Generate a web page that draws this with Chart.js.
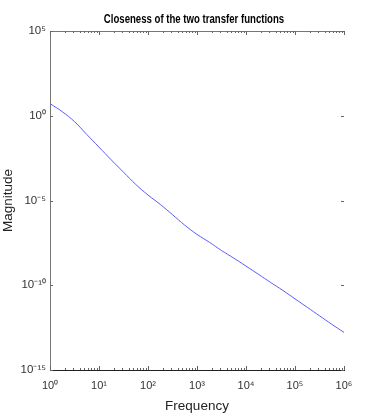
<!DOCTYPE html>
<html>
<head>
<meta charset="utf-8">
<script src="https://cdn.jsdelivr.net/npm/chart.js@4.4.0/dist/chart.umd.min.js"></script>
<style>
  html, body { margin: 0; padding: 0; background: #fff; }
  #wrap { width: 381px; height: 416px; }
</style>
</head>
<body>
<div id="wrap"><canvas id="grafico" width="381" height="416"></canvas></div>
<script>
// datos
const frecuencias = [1, 1.778, 3.162, 5.623, 10, 17.78, 31.62, 56.23, 100, 177.8, 316.2, 562.3,
  1e3, 1.778e3, 3.162e3, 5.623e3, 1e4, 1.778e4, 3.162e4, 5.623e4, 1e5, 1.778e5, 3.162e5, 5.623e5, 1e6];
const magnitudes = [5.2, 1.74, 0.45, 0.079, 0.0141, 2.5e-3, 4.7e-4, 8.9e-5, 2.1e-5, 5.9e-6, 1.45e-6, 3.5e-7,
  1.0e-7, 3.5e-8, 1.12e-8, 4.0e-9, 1.35e-9, 4.5e-10, 1.48e-10, 5.0e-11, 1.58e-11, 5.0e-12, 1.58e-12, 5.0e-13, 1.66e-13];
const ticksX = [1, 10, 100, 1e3, 1e4, 1e5, 1e6];
const etiquetasX = ['10⁰', '10¹', '10²', '10³', '10⁴', '10⁵', '10⁶'];
const ticksY = [1e5, 1, 1e-5, 1e-10, 1e-15];
const etiquetasY = ['10⁵', '10⁰', '10⁻⁵', '10⁻¹⁰', '10⁻¹⁵'];
const titulo = 'Closeness of the two transfer functions';

const fuente = "'Liberation Sans', Arial, sans-serif";

// titulo angosto y marcas interiores estilo matlab
const marcasInteriores = {
  id: 'marcasInteriores',
  afterDraw(chart) {
    const ctx = chart.ctx;
    const a = chart.chartArea;
    const sx = chart.scales.x;
    const sy = chart.scales.y;
    ctx.save();
    ctx.font = "bold 12px " + fuente;
    ctx.fillStyle = '#000';
    ctx.textAlign = 'center';
    ctx.textBaseline = 'alphabetic';
    ctx.translate((a.left + a.right) / 2 - 3, 23);
    ctx.scale(0.8, 1);
    ctx.fillText(titulo, 0, 0);
    ctx.restore();

    ctx.save();
    ctx.lineWidth = 1;
    // borde superior
    ctx.strokeStyle = '#777';
    ctx.beginPath();
    ctx.moveTo(a.left, a.top + 0.5);
    ctx.lineTo(a.right, a.top + 0.5);
    ctx.stroke();
    ctx.strokeStyle = '#666';
    for (let d = 1; d < 1e6; d *= 10) {
      for (let k = 1; k <= 10; k++) {
        const x = Math.round(sx.getPixelForValue(d * k)) + 0.5;
        const largo = (k === 1 || k === 10) ? 4 : 2;
        ctx.beginPath();
        ctx.moveTo(x, a.bottom);
        ctx.lineTo(x, a.bottom - largo);
        ctx.moveTo(x, a.top);
        ctx.lineTo(x, a.top + largo);
        ctx.stroke();
      }
    }
    ticksY.forEach(v => {
      const y = Math.round(sy.getPixelForValue(v)) + 0.5;
      ctx.beginPath();
      ctx.moveTo(a.left, y);
      ctx.lineTo(a.left + 3, y);
      ctx.moveTo(a.right, y);
      ctx.lineTo(a.right - 3, y);
      ctx.stroke();
    });
    ctx.restore();
  }
};

new Chart(document.getElementById('grafico'), {
  type: 'line',
  data: {
    datasets: [{
      data: frecuencias.map((f, i) => ({ x: f, y: magnitudes[i] })),
      borderColor: 'rgb(90,90,255)',
      borderWidth: 1,
      pointRadius: 0,
      tension: 0.4,
      fill: false
    }]
  },
  options: {
    responsive: false,
    animation: false,
    events: [],
    layout: { padding: { left: 0, right: 37, top: 31, bottom: 2 } },
    plugins: {
      legend: { display: false },
      tooltip: { enabled: false },
      title: { display: false }
    },
    scales: {
      x: {
        type: 'logarithmic',
        min: 1,
        max: 1e6,
        afterBuildTicks: s => { s.ticks = ticksX.map(v => ({ value: v })); },
        afterFit: s => { s.height = 44; },
        grid: { display: false, drawTicks: false },
        border: { display: true, color: '#222', width: 1 },
        ticks: {
          autoSkip: false,
          maxRotation: 0,
          padding: 9,
          color: '#333',
          font: { family: fuente, size: 11 },
          callback: (v) => { const i = ticksX.indexOf(v); return i >= 0 ? etiquetasX[i] : ''; }
        },
        title: {
          display: true,
          text: 'Frequency',
          color: '#222',
          font: { family: fuente, size: 13.5 },
          padding: { top: 3, bottom: 0 }
        }
      },
      y: {
        type: 'logarithmic',
        min: 1e-15,
        max: 1e5,
        afterBuildTicks: s => { s.ticks = ticksY.map(v => ({ value: v })); },
        afterFit: s => { s.width = 50; },
        grid: { display: false, drawTicks: false },
        border: { display: true, color: '#777', width: 1 },
        ticks: {
          autoSkip: false,
          padding: 4,
          color: '#333',
          font: { family: fuente, size: 11.5 },
          callback: (v) => { const i = ticksY.indexOf(v); return i >= 0 ? etiquetasY[i] : ''; }
        },
        title: {
          display: true,
          text: 'Magnitude',
          color: '#222',
          font: { family: fuente, size: 13.5 },
          padding: { top: 0, bottom: 2 }
        }
      }
    }
  },
  plugins: [marcasInteriores]
});
</script>
</body>
</html>
